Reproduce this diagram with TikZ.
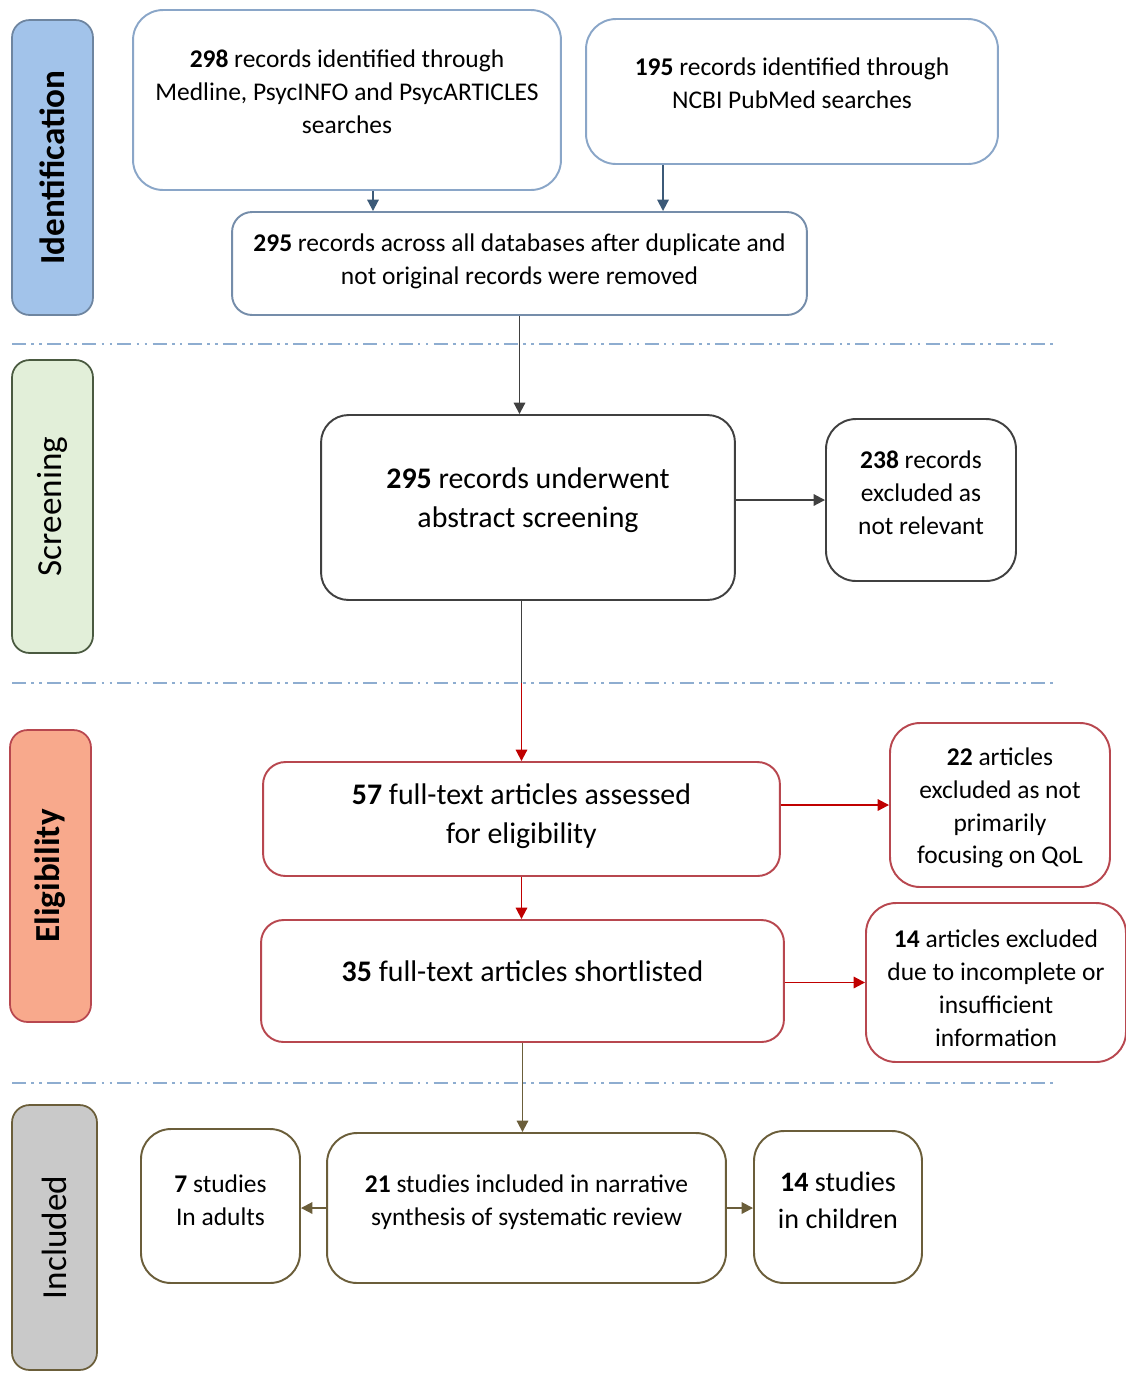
\documentclass[tikz,border=0pt]{standalone}
\usepackage{fontspec}
\setmainfont{Carlito}
\usetikzlibrary{arrows.meta}

\definecolor{idline}{HTML}{8AA6C8}
\definecolor{idarr}{HTML}{3C5A78}
\definecolor{idfill}{HTML}{A2C3EA}
\definecolor{scrline}{HTML}{404040}
\definecolor{scrfill}{HTML}{E2EFD9}
\definecolor{scrframe}{HTML}{4A5A40}
\definecolor{eliline}{HTML}{B8474F}
\definecolor{eliarr}{HTML}{C00000}
\definecolor{elifill}{HTML}{F8A98C}
\definecolor{incline}{HTML}{6B5E3A}
\definecolor{incfill}{HTML}{C9C9C9}
\definecolor{sepcol}{HTML}{8EADD0}

\tikzstyle{box}=[draw, rounded corners=0.6cm, line width=1.1pt, fill=white, inner sep=0pt]
\tikzstyle{idbox}=[box, draw=idline]
\tikzstyle{scrbox}=[box, draw=scrline]
\tikzstyle{elibox}=[box, draw=eliline]
\tikzstyle{incbox}=[box, draw=incline]
\tikzstyle{txt}=[align=center, font=\fontsize{14.5}{18.7}\selectfont]
\tikzstyle{bigtxt}=[align=center, font=\fontsize{17}{22}\selectfont]
\tikzstyle{phase}=[draw, rounded corners=0.35cm, line width=1pt, rotate=90, inner sep=0pt, font=\fontsize{20}{24}\selectfont]
\tikzstyle{sep}=[draw=sepcol, line width=1.2pt, dash pattern=on 8pt off 3pt on 1.5pt off 3pt on 1.5pt off 3pt]
\tikzstyle{arr}=[-{Triangle[length=6.5pt,width=6.5pt]}, line width=1.1pt]

\begin{document}
\begin{tikzpicture}[x=0.02cm, y=-0.02cm]

   \useasboundingbox (0,0) rectangle (1126,1374);

   % Phase labels

   \node[phase, fill=idfill, draw=idline!80!black, minimum width=5.9cm, minimum height=1.62cm] (pid) at (52.5,167.5) {\textbf{Identification}};
   \node[phase, fill=scrfill, draw=scrframe, minimum width=5.86cm, minimum height=1.62cm] (pscr) at (52.5,506.5) {Screening};
   \node[phase, fill=elifill, draw=eliline, minimum width=5.84cm, minimum height=1.62cm] (peli) at (50.5,876) {\textbf{Eligibility}};
   \node[phase, fill=incfill, draw=incline, minimum width=5.3cm, minimum height=1.7cm] (pinc) at (54.5,1237.5) {Included};

   % Separators

   \draw[sep] (12,344) -- (1058,344);
   \draw[sep] (12,683) -- (1058,683);
   \draw[sep] (12,1083) -- (1058,1083);

   % Identification

   \node[idbox, minimum width=8.56cm, minimum height=3.6cm] (recA) at (347,100) {};
   \node[txt] (tA) at (347,92) {\textbf{298} records identified through\\Medline, PsycINFO and PsycARTICLES\\searches};

   \node[idbox, minimum width=8.24cm, minimum height=2.9cm] (recB) at (792,91.5) {};
   \node[txt] (tB) at (792,83) {\textbf{195} records identified through\\NCBI PubMed searches};

   \node[idbox, draw=idline!85!black, rounded corners=0.4cm, minimum width=11.5cm, minimum height=2.06cm] (recC) at (519.5,263.5) {};
   \node[txt] (tC) at (519.5,261) {\textbf{295} records across all databases after duplicate and\\not original records were removed};

   \draw[arr, idarr] ([xshift=0.52cm]recA.south) -- ([xshift=0.52cm]recA.south |- recC.north);
   \draw[arr, idarr] ([xshift=-2.58cm]recB.south) -- ([xshift=-2.58cm]recB.south |- recC.north);

   % Screening

   \node[scrbox, rounded corners=0.55cm, minimum width=8.28cm, minimum height=3.7cm] (scr) at (528,507.5) {};
   \node[bigtxt] (tscr) at (528,500) {\textbf{295} records underwent\\abstract screening};

   \node[scrbox, minimum width=3.8cm, minimum height=3.24cm] (excl) at (921,500) {};
   \node[txt] (texcl) at (921,493) {\textbf{238} records\\excluded as\\not relevant};

   \draw[arr, scrline] (recC.south) -- (recC.south |- scr.north);
   \draw[arr, scrline] (scr.east |- excl.west) -- (excl.west);

   % Eligibility

   \node[elibox, rounded corners=0.45cm, minimum width=10.34cm, minimum height=2.28cm] (eli) at (521.5,819) {};
   \node[bigtxt] (teli) at (521.5,816) {\textbf{57} full-text articles assessed\\for eligibility};

   \node[elibox, minimum width=4.4cm, minimum height=3.28cm] (exclB) at (1000,805) {};
   \node[txt] (texclB) at (1000,808) {\textbf{22} articles\\excluded as not\\primarily\\focusing on QoL};

   \node[elibox, rounded corners=0.45cm, minimum width=10.46cm, minimum height=2.44cm] (short) at (522.5,981) {};
   \node[bigtxt] (tshort) at (522.5,971) {\textbf{35} full-text articles shortlisted};

   \node[elibox, minimum width=5.2cm, minimum height=3.18cm] (exclC) at (996,982.5) {};
   \node[txt] (texclC) at (996,988) {\textbf{14} articles excluded\\due to incomplete or\\insufficient\\information};

   \coordinate (mid) at (eli.north |- 0,683);
   \draw[scrline, line width=1.1pt] (scr.south -| eli.north) -- (mid);
   \draw[arr, eliarr] (mid) -- (eli.north);
   \draw[arr, eliarr] (eli.east |- exclB.west) -- (exclB.west);
   \draw[arr, eliarr] (eli.south) -- (eli.south |- short.north);
   \draw[arr, eliarr] (short.east |- exclC.west) -- (exclC.west);

   % Included

   \node[incbox, minimum width=7.98cm, minimum height=3.0cm] (incl) at (526.5,1208) {};
   \node[txt] (tincl) at (526.5,1202) {\textbf{21} studies included in narrative\\synthesis of systematic review};

   \node[incbox, minimum width=3.18cm, minimum height=3.08cm] (adults) at (220.5,1206) {};
   \node[txt] (tadults) at (220.5,1200) {\textbf{7} studies\\In adults};

   \node[incbox, minimum width=3.36cm, minimum height=3.04cm] (child) at (838,1207) {};
   \node[txt, font=\fontsize{16}{21}\selectfont] (tchild) at (838,1200) {\textbf{14} studies\\in children};

   \draw[arr, incline] (short.south) -- (short.south |- incl.north);
   \draw[arr, incline] (incl.west) -- (incl.west -| adults.east);
   \draw[arr, incline] (incl.east) -- (incl.east -| child.west);

\end{tikzpicture}
\end{document}
